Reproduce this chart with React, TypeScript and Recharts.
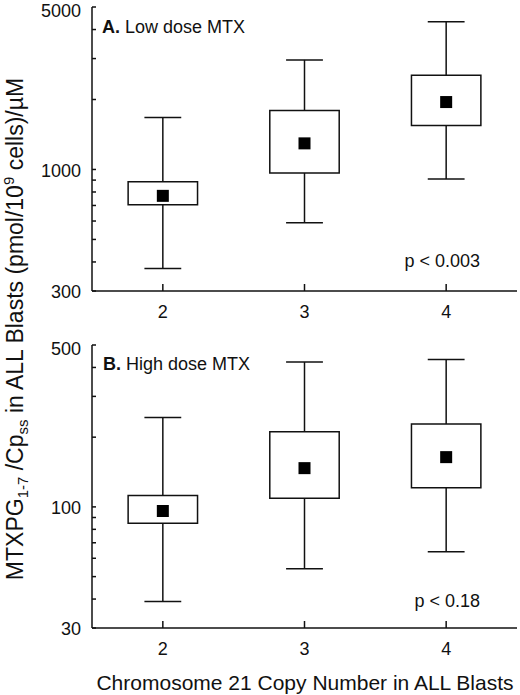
import React from 'react';
import {
  ComposedChart, XAxis, YAxis, Scatter, ReferenceArea, ReferenceLine,
} from 'recharts';

// chromosome 21 copy number categories
const copyNumbers = [2, 3, 4];

// A. low dose MTX (whisker low, box low, mean, box high, whisker high)
const lowMin = [375, 590, 910];
const lowQ1 = [705, 965, 1545];
const lowMean = [770, 1295, 1950];
const lowQ3 = [885, 1795, 2540];
const lowMax = [1675, 2960, 4320];

// B. high dose MTX
const highMin = [39, 54, 64];
const highQ1 = [85, 109, 121];
const highMean = [96, 147, 164];
const highQ3 = [112, 211, 228];
const highMax = [243, 422, 433];

// log axis ticks: labelled decades and unlabelled minor ticks
const lowLabels = [300, 1000, 5000];
const lowMinor = [400, 500, 600, 700, 800, 900, 2000, 3000, 4000];
const highLabels = [30, 100, 500];
const highMinor = [40, 50, 60, 70, 80, 90, 200, 300, 400];

const FONT = '"Liberation Sans", Arial, Helvetica, sans-serif';
const INK = '#111';

type Row = { x: number; min: number; q1: number; mean: number; q3: number; max: number };

function makeRows(mins: number[], q1s: number[], means: number[], q3s: number[], maxs: number[]): Row[] {
  return copyNumbers.map((x, i) => ({
    x, min: mins[i], q1: q1s[i], mean: means[i], q3: q3s[i], max: maxs[i],
  }));
}

function MeanMarker({ cx, cy }: any) {
  return <rect x={cx - 6} y={cy - 6} width={12} height={12} fill="#000" />;
}

// y tick label only (tick lines come from the axis); top label sits a little lower
function makeYLabel(labels: number[], top: number) {
  return (props: any) => {
    const { x, y, payload } = props;
    if (!labels.includes(payload.value)) return <g />;
    return (
      <text
        x={x} y={y + (payload.value === top ? 4 : 1)} dy="0.36em" textAnchor="end"
        fontSize={18} fontFamily={FONT} fill={INK}
      >
        {payload.value}
      </text>
    );
  };
}

interface PanelProps {
  rows: Row[];
  domain: [number, number];
  labels: number[];
  minor: number[];
  height: number;
  marginTop: number;
  xAxisHeight: number;
}

function BoxPanel({ rows, domain, labels, minor, height, marginTop, xAxisHeight }: PanelProps) {
  const boxHalf = 0.245;
  const capHalf = 0.13;
  const line = { stroke: INK, strokeWidth: 1.5 };
  const allTicks = [...labels, ...minor].sort((a, b) => a - b);
  return (
    <ComposedChart width={520} height={height} margin={{ top: marginTop, right: 3, bottom: 0, left: 0 }}>
      {rows.map((r) => (
        <React.Fragment key={r.x}>
          <ReferenceLine segment={[{ x: r.x, y: r.min }, { x: r.x, y: r.q1 }]} {...line} />
          <ReferenceLine segment={[{ x: r.x, y: r.q3 }, { x: r.x, y: r.max }]} {...line} />
          <ReferenceLine segment={[{ x: r.x - capHalf, y: r.min }, { x: r.x + capHalf, y: r.min }]} {...line} />
          <ReferenceLine segment={[{ x: r.x - capHalf, y: r.max }, { x: r.x + capHalf, y: r.max }]} {...line} />
          <ReferenceArea
            x1={r.x - boxHalf} x2={r.x + boxHalf} y1={r.q1} y2={r.q3}
            fill="#fff" fillOpacity={1} {...line}
          />
        </React.Fragment>
      ))}
      <Scatter data={rows} dataKey="mean" shape={<MeanMarker />} isAnimationActive={false} />

      {/* top and right edges of the frame */}
      <XAxis
        xAxisId="top" orientation="top" type="number" domain={[1.5, 4.5]}
        allowDataOverflow height={0} tick={false} tickLine={false} axisLine={line}
      />
      <YAxis
        yAxisId="right" orientation="right" type="number" scale="log" domain={domain}
        allowDataOverflow width={0} tick={false} tickLine={false} axisLine={line}
      />

      {/* longer inward ticks at the labelled values */}
      <YAxis
        yAxisId="major" type="number" scale="log" domain={domain} allowDataOverflow
        ticks={labels} interval={0} width={0} tickSize={-8} tickLine={line}
        tickFormatter={() => ''} axisLine={false}
      />

      <XAxis
        type="number"
        dataKey="x"
        domain={[1.5, 4.5]}
        ticks={copyNumbers}
        interval={0}
        allowDataOverflow
        tickSize={-7}
        tickMargin={21}
        tickLine={line}
        tick={{ fontSize: 18, fontFamily: FONT, fill: INK }}
        axisLine={line}
        height={xAxisHeight}
      />
      <YAxis
        type="number"
        dataKey="mean"
        scale="log"
        domain={domain}
        ticks={allTicks}
        interval={0}
        allowDataOverflow
        tickSize={-4}
        tickMargin={15}
        tickLine={line}
        tick={makeYLabel(labels, domain[1])}
        axisLine={line}
        width={92}
      />
    </ComposedChart>
  );
}

export default function App() {
  const lowRows = makeRows(lowMin, lowQ1, lowMean, lowQ3, lowMax);
  const highRows = makeRows(highMin, highQ1, highMean, highQ3, highMax);

  return (
    <div style={{ position: 'absolute', left: 0, top: 0, width: 520, height: 695, background: '#fff' }}>
      <div style={{ position: 'absolute', left: 0, top: 0 }}>
        <BoxPanel
          rows={lowRows} domain={[300, 5000]} labels={lowLabels} minor={lowMinor}
          height={325} marginTop={7} xAxisHeight={34}
        />
      </div>
      <div style={{ position: 'absolute', left: 0, top: 330 }}>
        <BoxPanel
          rows={highRows} domain={[30, 500]} labels={highLabels} minor={highMinor}
          height={330} marginTop={15} xAxisHeight={32}
        />
      </div>

      {/* shared labels, panel titles and p values */}
      <svg width={520} height={695} style={{ position: 'absolute', left: 0, top: 0, pointerEvents: 'none' }}>
        <g fontFamily={FONT} fill={INK}>
          <text x={102} y={33} fontSize={18}>
            <tspan fontWeight="bold">A.</tspan> Low dose MTX
          </text>
          <text x={480} y={267} fontSize={18} textAnchor="end">p &lt; 0.003</text>

          <text x={103} y={370} fontSize={18}>
            <tspan fontWeight="bold">B.</tspan> High dose MTX
          </text>
          <text x={480} y={607} fontSize={18} textAnchor="end">p &lt; 0.18</text>

          <text x={305} y={690} fontSize={21} textAnchor="middle">
            Chromosome 21 Copy Number in ALL Blasts
          </text>

          <text transform="translate(23 329) rotate(-90)" fontSize={23} textAnchor="middle">
            MTXPG<tspan fontSize={15} dy={5}>1-7</tspan>
            <tspan dy={-5}> /Cp</tspan>
            <tspan fontSize={15} dy={5}>ss</tspan>
            <tspan dy={-5}> in ALL Blasts (pmol/10</tspan>
            <tspan fontSize={15} dy={-9}>9</tspan>
            <tspan dy={9}> cells)/µM</tspan>
          </text>
        </g>
      </svg>
    </div>
  );
}
